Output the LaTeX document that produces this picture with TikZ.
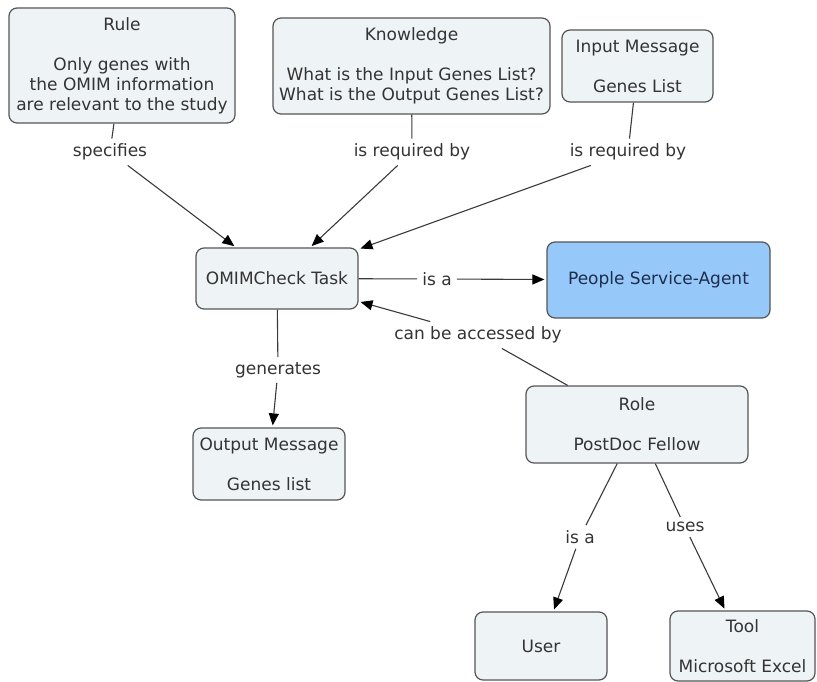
\documentclass[tikz,border=0pt]{standalone}
\usepackage{fontspec}
\setmainfont{DejaVu Sans}
\usetikzlibrary{arrows.meta}

\definecolor{conceptfill}{HTML}{EEF3F6}
\definecolor{conceptline}{HTML}{555555}
\definecolor{agentfill}{HTML}{96C8FA}
\definecolor{agenttext}{HTML}{1E2D4B}
\definecolor{inktext}{HTML}{333333}
\definecolor{linkline}{HTML}{3A3A3A}

\tikzset{
  concept/.style={draw=conceptline, fill=conceptfill, rounded corners=8pt,
    line width=1.2pt, align=center, text=inktext, inner sep=0pt,
    font=\fontsize{17}{20}\selectfont},
  agent/.style={concept, fill=agentfill, text=agenttext},
  linkphrase/.style={text=inktext, inner sep=5pt,
    font=\fontsize{17}{20}\selectfont},
  link/.style={draw=linkline, line width=1.1pt},
  arrowlink/.style={link, -{Triangle[length=12pt,width=10pt,color=black]}, shorten >=2pt},
}

\begin{document}
\begin{tikzpicture}[x=1pt,y=-1pt]
\useasboundingbox (0,0) rectangle (817,682);

% concepts
\node[concept, minimum width=226pt, minimum height=115pt] (rule) at (122,65.5)
  {Rule\\[20pt]Only genes with\\the OMIM information\\are relevant to the study};
\node[concept, minimum width=277pt, minimum height=96pt] (knowledge) at (411.5,66)
  {Knowledge\\[20pt]What is the Input Genes List?\\What is the Output Genes List?};
\node[concept, minimum width=151pt, minimum height=72pt] (input) at (637.5,66)
  {Input Message\\[20pt]Genes List};
\node[concept, minimum width=162pt, minimum height=61pt] (task) at (277,278.5)
  {OMIMCheck Task};
\node[agent, minimum width=223pt, minimum height=76pt] (agent) at (658.5,280)
  {People Service-Agent};
\node[concept, minimum width=152pt, minimum height=72pt] (output) at (269,464)
  {Output Message\\[20pt]Genes list};
\node[concept, minimum width=222pt, minimum height=77pt] (role) at (637,424.5)
  {Role\\[20pt]PostDoc Fellow};
\node[concept, minimum width=132pt, minimum height=68pt] (user) at (541,646)
  {User};
\node[concept, minimum width=145pt, minimum height=70pt] (tool) at (742.5,646)
  {Tool\\[20pt]Microsoft Excel};

% linking phrases
\node[linkphrase] (lspec) at (110,152) {specifies};
\node[linkphrase] (lreq1) at (412,152) {is required by};
\node[linkphrase] (lreq2) at (628,152) {is required by};
\node[linkphrase] (lisa1) at (437,279) {is a};
\node[linkphrase] (lacc) at (478,335) {can be accessed by};
\node[linkphrase] (lgen) at (278,370) {generates};
\node[linkphrase] (lisa2) at (580,537) {is a};
\node[linkphrase] (luses) at (685,527) {uses};

% connections
\draw[link] (rule) -- (lspec);
\draw[arrowlink] (lspec) -- (task);
\draw[link] (knowledge) -- (lreq1);
\draw[arrowlink] (lreq1) -- (task);
\draw[link] (input) -- (lreq2);
\draw[arrowlink] (lreq2) -- (task);
\draw[link] (task) -- (lisa1);
\draw[arrowlink] (lisa1) -- (agent);
\draw[link] (role) -- (lacc);
\draw[arrowlink] (lacc) -- (task);
\draw[link] (task) -- (lgen);
\draw[arrowlink] (lgen) -- (output);
\draw[link] (role) -- (lisa2);
\draw[arrowlink] (lisa2) -- (user);
\draw[link] (role) -- (luses);
\draw[arrowlink] (luses) -- (tool);
\end{tikzpicture}
\end{document}
